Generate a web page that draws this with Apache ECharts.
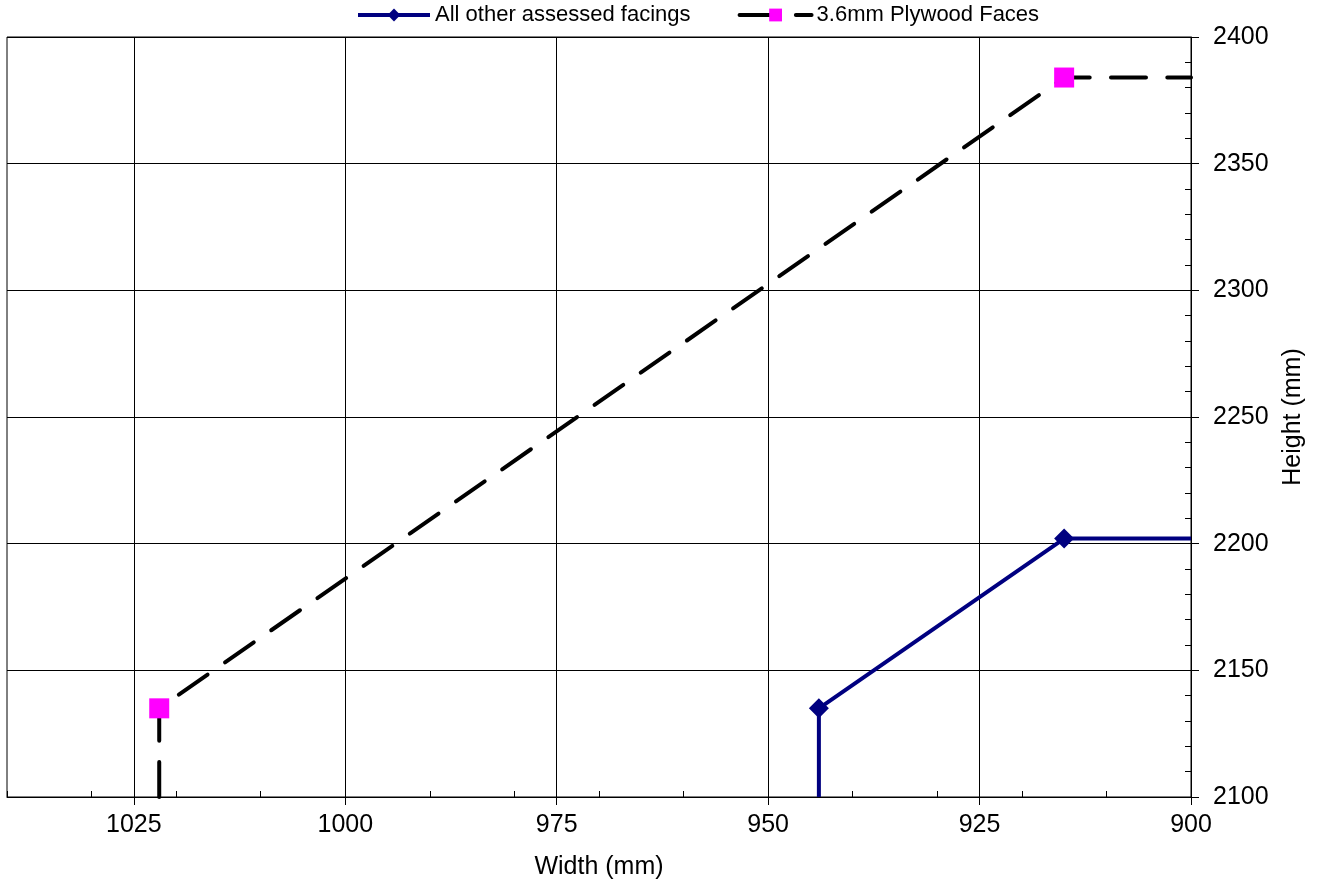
<!DOCTYPE html>
<html>
<head>
<meta charset="utf-8">
<script src="https://cdn.jsdelivr.net/npm/echarts@6/dist/echarts.min.js"></script>
<style>
html,body{margin:0;padding:0;background:#fff;}
#chart{width:1317px;height:890px;}
</style>
</head>
<body>
<div id="chart"></div>
<script>
// ---- data ----
const seriesNames = ['All other assessed facings', '3.6mm Plywood Faces'];
const otherWidth = [944, 944, 915, 900];
const otherHeight = [2100, 2135, 2202, 2202];
const plywoodWidth = [1022, 1022, 915, 900];
const plywoodHeight = [2100, 2135, 2384, 2384];
const markerShown = [false, true, true, false];
const xTickLabels = [1025, 1000, 975, 950, 925, 900];
const yTickLabels = [2100, 2150, 2200, 2250, 2300, 2350, 2400];

const FONT = '"Liberation Sans", Arial, sans-serif';

function buildPoints(xs, ys, symbol) {
  return xs.map((x, i) => ({
    value: [x, ys[i]],
    symbol: markerShown[i] ? symbol : 'none'
  }));
}

const chart = echarts.init(document.getElementById('chart'), null, {renderer: 'canvas'});

const option = {
  backgroundColor: '#fff',
  animation: false,
  textStyle: {fontFamily: FONT, color: '#000'},
  legend: {
    left: 356,
    top: 4,
    padding: 0,
    itemWidth: 72,
    itemHeight: 16,
    itemGap: 47,
    lineStyle: {width: 4},
    textStyle: {fontFamily: FONT, fontSize: 22, color: '#000'},
    data: seriesNames
  },
  grid: {
    left: 7, right: 126, top: 37, bottom: 93,
    show: true, borderColor: '#000', borderWidth: 1,
    containLabel: false
  },
  xAxis: [{
    type: 'value',
    inverse: true,
    min: 900, max: 1040, interval: 25,
    position: 'bottom',
    name: 'Width (mm)',
    nameLocation: 'middle',
    nameGap: 58,
    nameTextStyle: {fontFamily: FONT, fontSize: 25, color: '#000'},
    axisLine: {show: true, onZero: false, lineStyle: {color: '#000', width: 1}},
    axisTick: {show: true, length: 8, customValues: xTickLabels, lineStyle: {color: '#000'}},
    axisLabel: {
      fontFamily: FONT, fontSize: 25, color: '#000', margin: 16,
      formatter: v => xTickLabels.indexOf(v) >= 0 ? String(v) : ''
    },
    splitLine: {show: true, lineStyle: {color: '#000', width: 1}}
  }, {
    type: 'value',
    inverse: true,
    min: 900, max: 1040, interval: 10,
    position: 'bottom',
    axisLine: {show: false},
    axisTick: {show: true, inside: true, length: 6, lineStyle: {color: '#000'}},
    axisLabel: {show: false},
    splitLine: {show: false}
  }],
  yAxis: [{
    type: 'value',
    min: 2100, max: 2400, interval: 50,
    position: 'right',
    name: 'Height (mm)',
    nameLocation: 'middle',
    nameRotate: 90,
    nameGap: 90,
    nameTextStyle: {fontFamily: FONT, fontSize: 25, color: '#000'},
    axisLine: {show: true, onZero: false, lineStyle: {color: '#000', width: 1}},
    axisTick: {show: true, length: 8, lineStyle: {color: '#000'}},
    axisLabel: {
      fontFamily: FONT, fontSize: 25, color: '#000', margin: 22,
      formatter: v => yTickLabels.indexOf(v) >= 0 ? String(v) : ''
    },
    splitLine: {show: true, lineStyle: {color: '#000', width: 1}}
  }, {
    type: 'value',
    min: 2100, max: 2400, interval: 10,
    position: 'right',
    axisLine: {show: false},
    axisTick: {show: true, inside: true, length: 6, lineStyle: {color: '#000'}},
    axisLabel: {show: false},
    splitLine: {show: false}
  }],
  series: [{
    name: seriesNames[0],
    type: 'line',
    xAxisIndex: 0, yAxisIndex: 0,
    symbol: 'diamond',
    symbolSize: 20,
    color: '#000080',
    itemStyle: {color: '#000080'},
    lineStyle: {color: '#000080', width: 4},
    data: buildPoints(otherWidth, otherHeight, 'diamond'),
    z: 3
  }, {
    name: seriesNames[1],
    type: 'line',
    xAxisIndex: 0, yAxisIndex: 0,
    symbol: 'rect',
    symbolSize: 20,
    color: '#FF00FF',
    itemStyle: {color: '#FF00FF'},
    lineStyle: {color: '#000', width: 4, type: [35, 21.3], cap: 'round'},
    data: buildPoints(plywoodWidth, plywoodHeight, 'rect'),
    z: 3
  }]
};

chart.setOption(option);
</script>
</body>
</html>
